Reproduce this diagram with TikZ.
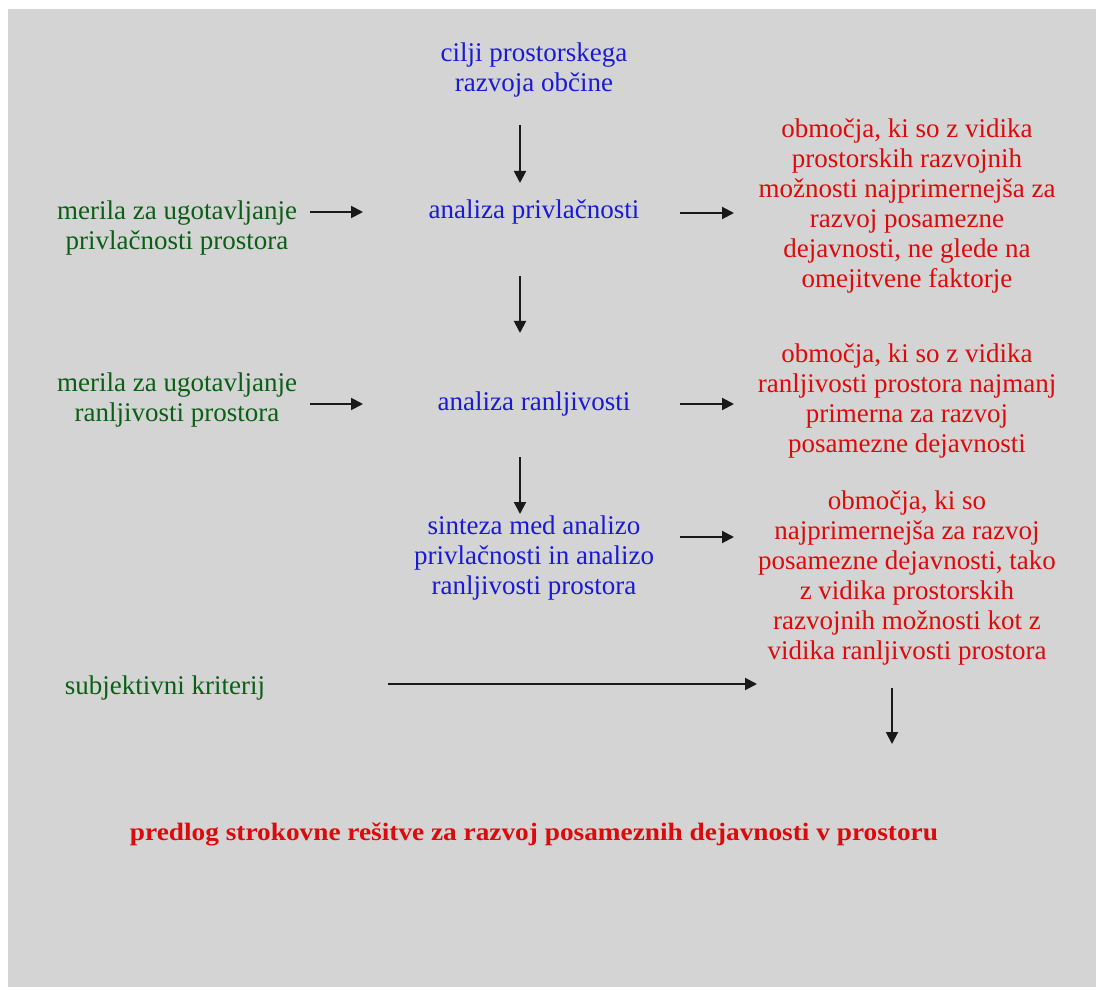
\documentclass[tikz,border=0pt]{standalone}
\usepackage{fontspec}
\setmainfont{Liberation Serif}
\usetikzlibrary{arrows.meta}
\definecolor{bgg}{RGB}{212,212,212}
\definecolor{tblue}{RGB}{25,25,215}
\definecolor{tgreen}{RGB}{10,95,20}
\definecolor{tred}{RGB}{220,10,10}
\tikzset{
  txt/.style={inner sep=0pt, align=center, font=\fontsize{27}{30}\selectfont},
  bluetxt/.style={txt, text=tblue},
  greentxt/.style={txt, text=tgreen},
  redtxt/.style={txt, text=tred},
  arr/.style={line width=2pt, draw=black!90, -{Triangle[length=12pt,width=12pt]}},
}
\begin{document}
\begin{tikzpicture}[x=1pt,y=-1pt]
\useasboundingbox (0,0) rectangle (1096,987);
\fill[white] (0,0) rectangle (1096,987);
\fill[bgg] (8,9) rectangle (1096,987);

\node[bluetxt] (cilji) at (534,70) {cilji prostorskega\\razvoja občine};
\node[greentxt] (merP) at (177,228) {merila za ugotavljanje\\privlačnosti prostora};
\node[bluetxt] (anP) at (534,212) {analiza privlačnosti};
\node[redtxt] (resP) at (907,206) {območja, ki so z vidika\\prostorskih razvojnih\\možnosti najprimernejša za\\razvoj posamezne\\dejavnosti, ne glede na\\omejitvene faktorje};
\node[greentxt] (merR) at (177,400) {merila za ugotavljanje\\ranljivosti prostora};
\node[bluetxt] (anR) at (534,404) {analiza ranljivosti};
\node[redtxt] (resR) at (907,401) {območja, ki so z vidika\\ranljivosti prostora najmanj\\primerna za razvoj\\posamezne dejavnosti};
\node[bluetxt] (sint) at (534,558) {sinteza med analizo\\privlačnosti in analizo\\ranljivosti prostora};
\node[redtxt] (resS) at (907,578) {območja, ki so\\najprimernejša za razvoj\\posamezne dejavnosti, tako\\z vidika prostorskih\\razvojnih možnosti kot z\\vidika ranljivosti prostora};
\node[greentxt] (subj) at (165,688) {subjektivni kriterij};
\node[txt, text=tred, font=\fontsize{25}{30}\bfseries] (pred) at (534,834) {\resizebox{808pt}{\height}{predlog strokovne rešitve za razvoj posameznih dejavnosti v prostoru}};

% arrow end points
\coordinate (a1s) at (520,125); \coordinate (a1e) at (520,183);
\coordinate (a2s) at (310,212); \coordinate (a2e) at (363,212);
\coordinate (a3s) at (680,213); \coordinate (a3e) at (734,213);
\coordinate (a4s) at (520,276); \coordinate (a4e) at (520,333);
\coordinate (a5s) at (310,404); \coordinate (a5e) at (363,404);
\coordinate (a6s) at (680,404); \coordinate (a6e) at (734,404);
\coordinate (a7s) at (520,457); \coordinate (a7e) at (520,514);
\coordinate (a8s) at (680,537); \coordinate (a8e) at (734,537);
\coordinate (a9s) at (388,684); \coordinate (a9e) at (757,684);
\coordinate (a10s) at (892,688); \coordinate (a10e) at (892,744);

\foreach \i in {1,...,10} \draw[arr] (a\i s) -- (a\i e);
\end{tikzpicture}
\end{document}
